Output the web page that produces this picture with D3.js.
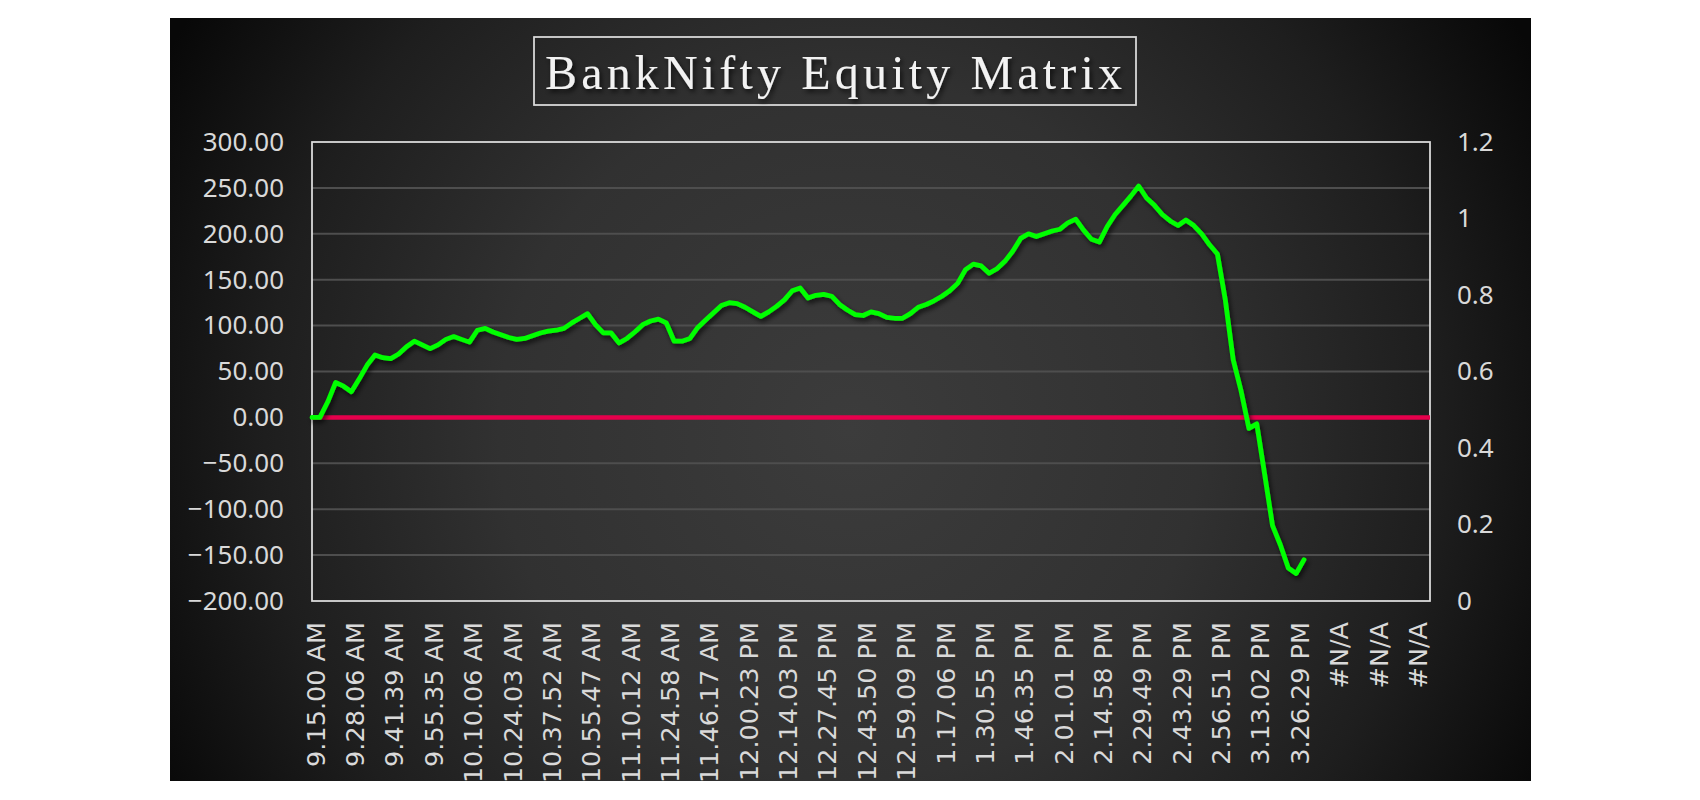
<!DOCTYPE html>
<html>
<head>
<meta charset="utf-8">
<script src="https://cdn.jsdelivr.net/npm/d3@7"></script>
<style>
  body { margin: 0; background: #fff; }
  svg { display: block; }
</style>
</head>
<body>
<svg id="chart"></svg>
<script>
// tick labels shown on the category axis (one every 5 points)
var tickLabels = [
    "9.15.00 AM", "9.28.06 AM", "9.41.39 AM", "9.55.35 AM", "10.10.06 AM",
    "10.24.03 AM", "10.37.52 AM", "10.55.47 AM", "11.10.12 AM", "11.24.58 AM",
    "11.46.17 AM", "12.00.23 PM", "12.14.03 PM", "12.27.45 PM", "12.43.50 PM",
    "12.59.09 PM", "1.17.06 PM", "1.30.55 PM", "1.46.35 PM", "2.01.01 PM",
    "2.14.58 PM", "2.29.49 PM", "2.43.29 PM", "2.56.51 PM", "3.13.02 PM",
    "3.26.29 PM", "#N/A", "#N/A", "#N/A"
]
var labelEvery = 5
var categoryCount = 143

// cumulative equity
var equity = [
    0, 0, 17, 38, 34, 28, 42, 57, 68, 65,
    64, 69, 77, 83, 79, 75, 79, 85, 88, 85,
    82, 95, 97, 93, 90, 87, 85, 86, 89, 92,
    94, 95, 97, 103, 108, 113, 101, 92, 92, 81,
    86, 93, 101, 105, 107, 103, 83, 83, 86, 98,
    106, 114, 122, 125, 124, 120, 115, 110, 115, 121,
    128, 138, 141, 130, 133, 134, 132, 123, 117, 112,
    111, 115, 113, 109, 108, 108, 113, 120, 123, 127,
    132, 138, 146, 161, 167, 165, 157, 162, 170, 181,
    195, 200, 197, 200, 203, 205, 212, 216, 204, 194,
    191, 208, 221, 231, 241, 252, 239, 231, 221, 214,
    209, 215, 209, 200, 188, 178, 128, 63, 29, -12,
    -7, -62, -118, -139, -164, -170, -155
]

var leftTicks = [-200, -150, -100, -50, 0, 50, 100, 150, 200, 250, 300]
var rightTicks = [0, 0.2, 0.4, 0.6, 0.8, 1, 1.2]

var width = 1700, height = 800
var svg = d3.select("#chart")
    .attr("width", width)
    .attr("height", height)

var defs = svg.append("defs")
var grad = defs.append("radialGradient")
    .attr("id", "bg")
    .attr("gradientUnits", "userSpaceOnUse")
    .attr("cx", 850).attr("cy", 430).attr("r", 780)
grad.append("stop").attr("offset", "0%").attr("stop-color", "#3c3c3c")
grad.append("stop").attr("offset", "45%").attr("stop-color", "#313131")
grad.append("stop").attr("offset", "75%").attr("stop-color", "#1e1e1e")
grad.append("stop").attr("offset", "100%").attr("stop-color", "#080808")

var shadow = defs.append("filter").attr("id", "shadow")
    .attr("x", "-5%").attr("y", "-5%").attr("width", "110%").attr("height", "115%")
shadow.append("feDropShadow")
    .attr("dx", 2).attr("dy", 3).attr("stdDeviation", 2.5)
    .attr("flood-color", "#000").attr("flood-opacity", 0.7)

svg.append("rect")
    .attr("x", 170).attr("y", 18)
    .attr("width", 1361).attr("height", 763)
    .attr("fill", "url(#bg)")

var plotL = 312, plotR = 1430, plotT = 142, plotB = 601

var x = d3.scaleLinear().domain([0, categoryCount - 1]).range([plotL, plotR])
var y = d3.scaleLinear().domain([-200, 300]).range([plotB, plotT])
var y2 = d3.scaleLinear().domain([0, 1.2]).range([plotB, plotT])

// grid
svg.append("g")
    .selectAll("line")
    .data(leftTicks.slice(1, -1))
    .enter()
    .append("line")
        .attr("x1", plotL).attr("x2", plotR)
        .attr("y1", d => y(d)).attr("y2", d => y(d))
        .attr("stroke", "#4e4e4e")
        .attr("stroke-width", 2)

// plot border
svg.append("rect")
    .attr("x", plotL).attr("y", plotT)
    .attr("width", plotR - plotL).attr("height", plotB - plotT)
    .attr("fill", "none")
    .attr("stroke", "#dedede")
    .attr("stroke-width", 1.75)

// zero line
svg.append("line")
    .attr("x1", plotL).attr("x2", plotR)
    .attr("y1", y(0)).attr("y2", y(0))
    .attr("stroke", "#e6004c")
    .attr("stroke-width", 4.5)

// equity line
var line = d3.line()
    .x((d, i) => x(i))
    .y(d => y(d))

svg.append("path")
    .datum(equity)
    .attr("d", line)
    .attr("fill", "none")
    .attr("stroke", "#00ff00")
    .attr("stroke-width", 4.75)
    .attr("stroke-linejoin", "round")
    .attr("stroke-linecap", "round")
    .attr("filter", "url(#shadow)")

// axes
var leftAxis = svg.append("g")
    .attr("transform", "translate(" + plotL + ",0)")
    .call(d3.axisLeft(y).tickValues(leftTicks).tickFormat(d3.format(".2f")).tickSize(0).tickPadding(28))
var rightAxis = svg.append("g")
    .attr("transform", "translate(" + plotR + ",0)")
    .call(d3.axisRight(y2).tickValues(rightTicks).tickFormat(d => String(+d.toFixed(1))).tickSize(0).tickPadding(27))

;[leftAxis, rightAxis].forEach(function (a) {
    a.select(".domain").remove()
    a.selectAll("text")
        .attr("fill", "#d9d9d9")
        .style("font-family", "'Noto Sans', sans-serif")
        .style("font-size", "26px")
})

var xAxis = svg.append("g")
    .attr("transform", "translate(0," + plotB + ")")
    .call(d3.axisBottom(x)
        .tickValues(d3.range(0, tickLabels.length * labelEvery, labelEvery))
        .tickFormat((d, i) => tickLabels[i])
        .tickSize(0))
xAxis.select(".domain").remove()
xAxis.selectAll("text")
    .attr("fill", "#d9d9d9")
    .style("font-family", "'DejaVu Sans', sans-serif")
    .style("font-size", "25.5px")
    .attr("text-anchor", "end")
    .attr("transform", "translate(3,21) rotate(-90)")
    .attr("x", 0).attr("y", 0)
    .attr("dy", "0.36em")

// title
svg.append("rect")
    .attr("x", 534).attr("y", 37)
    .attr("width", 602).attr("height", 68)
    .attr("fill", "none")
    .attr("stroke", "#dcdcdc")
    .attr("stroke-width", 1.75)
svg.append("text")
    .attr("x", 545).attr("y", 89)
    .attr("textLength", 577)
    .attr("lengthAdjust", "spacing")
    .attr("fill", "#f2f2f2")
    .attr("filter", "url(#shadow)")
    .style("font-family", "'Liberation Serif', serif")
    .style("font-size", "48px")
    .text("BankNifty Equity Matrix")
</script>
</body>
</html>
